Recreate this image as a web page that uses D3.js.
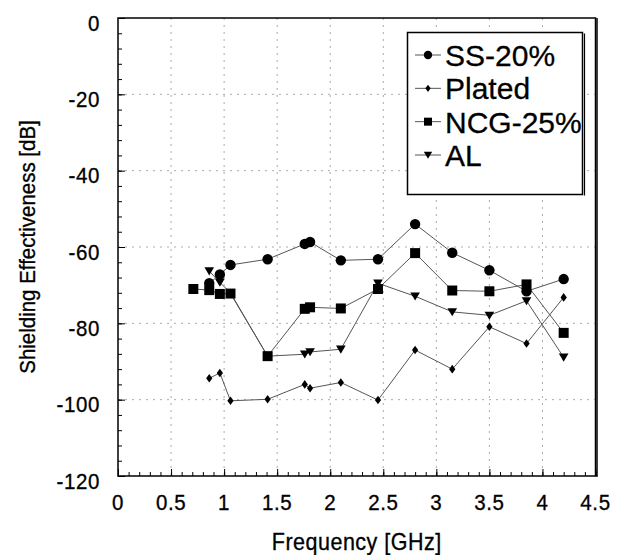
<!DOCTYPE html>
<html><head><meta charset="utf-8">
<script src="https://cdn.jsdelivr.net/npm/d3@7"></script>
<style>
body{margin:0;background:#fff}
text{font-family:"Liberation Sans",Arial,Helvetica,sans-serif;fill:#000;stroke:#000;stroke-width:0.3px}
</style>
</head><body>
<svg id="chart" width="618" height="555"></svg>
<script>
// ---- data ----
const ssFreq    = [0.86, 0.96, 1.06, 1.41, 1.76, 1.81, 2.10, 2.45, 2.80, 3.15, 3.50, 3.85, 4.20];
const ssValues  = [-69.5, -67.2, -64.7, -63.2, -59.2, -58.7, -63.5, -63.2, -54.0, -61.5, -66.1, -71.6, -68.4];

const platedFreq   = [0.86, 0.96, 1.06, 1.41, 1.76, 1.81, 2.10, 2.45, 2.80, 3.15, 3.50, 3.85, 4.20];
const platedValues = [-94.4, -93.0, -100.3, -99.9, -96.0, -97.0, -95.5, -100.1, -87.0, -92.0, -80.9, -85.3, -73.2];

const ncgFreq   = [0.71, 0.86, 0.96, 1.06, 1.41, 1.76, 1.81, 2.10, 2.45, 2.80, 3.15, 3.50, 3.85, 4.20];
const ncgValues = [-71.0, -71.3, -72.3, -72.2, -88.6, -76.2, -75.8, -76.1, -71.0, -61.6, -71.4, -71.6, -69.8, -82.5];

const alFreq   = [0.86, 0.96, 1.06, 1.41, 1.76, 1.81, 2.10, 2.45, 2.80, 3.15, 3.50, 3.85, 4.20];
const alValues = [-66.3, -69.3, -72.0, -88.6, -88.1, -87.5, -86.8, -69.5, -72.9, -77.0, -77.9, -74.1, -88.9];

const seriesNames = ["SS-20%", "Plated", "NCG-25%", "AL"];
const xTickLabels = ["0", "0.5", "1", "1.5", "2", "2.5", "3", "3.5", "4", "4.5"];
const yTickLabels = ["0", "-20", "-40", "-60", "-80", "-100", "-120"];
const xTitle = "Frequency [GHz]";
const yTitle = "Shielding Effectiveness [dB]";

// ---- layout ----
const svg = d3.select("#chart");
const L = 118, R = 595.5, T = 18, B = 476;
const x = d3.scaleLinear().domain([0, 4.5]).range([L, R]);
const y = d3.scaleLinear().domain([-120, 0]).range([B, T]);

const xMajor = xTickLabels.map(Number);
const yMajor = yTickLabels.map(Number);

// marker shapes
const shapes = {
  circle: (r) => `M${r},0A${r},${r} 0 1,1 ${-r},0A${r},${r} 0 1,1 ${r},0Z`,
  diamond: (r) => `M0,${-r*1.3}L${r*0.95},0L0,${r*1.3}L${-r*0.95},0Z`,
  square: (r) => `M${-r},${-r}L${r},${-r}L${r},${r}L${-r},${r}Z`,
  triDown: (r) => `M${-r*1.05},${-r*0.8}L${r*1.05},${-r*0.8}L0,${r*0.95}Z`
};

const series = [
  {name: seriesNames[0], fx: ssFreq, v: ssValues, shape: "circle", r: 5.2, lr: 4.2},
  {name: seriesNames[1], fx: platedFreq, v: platedValues, shape: "diamond", r: 3.3, lr: 2.8},
  {name: seriesNames[2], fx: ncgFreq, v: ncgValues, shape: "square", r: 5, lr: 4},
  {name: seriesNames[3], fx: alFreq, v: alValues, shape: "triDown", r: 4.6, lr: 4}
];

// ---- gridlines ----
const grid = svg.append("g");
grid.selectAll("line.vx").data(xMajor.filter(d => d > 0 && d < 4.5)).join("line")
  .attr("x1", d => x(d)).attr("x2", d => x(d)).attr("y1", T).attr("y2", B)
  .attr("stroke", "#aaa").attr("stroke-width", 1).attr("stroke-dasharray", "2,5");
grid.selectAll("line.hy").data(yMajor.filter(d => d < 0 && d > -120)).join("line")
  .attr("x1", L).attr("x2", R).attr("y1", d => y(d)).attr("y2", d => y(d))
  .attr("stroke", "#aaa").attr("stroke-width", 1).attr("stroke-dasharray", "2,5");

// ---- axes (ticks inward) ----
const xAxis = d3.axisBottom(x).tickValues(xMajor).tickSize(-7).tickFormat(() => "");
const xAxisMinor = d3.axisBottom(x).tickValues(d3.range(0, 4.501, 0.1)).tickSize(-4).tickFormat(() => "");
const yAxis = d3.axisLeft(y).tickValues(yMajor).tickSize(-7).tickFormat(() => "");
const yAxisMinor = d3.axisLeft(y).tickValues(d3.range(-120, 0.01, 4)).tickSize(-4).tickFormat(() => "");

function styleAxis(g) {
  g.select(".domain").remove();
  g.selectAll(".tick line").attr("stroke", "#000").attr("stroke-width", 1);
}
svg.append("g").attr("transform", `translate(0,${B})`).call(xAxisMinor).call(styleAxis);
svg.append("g").attr("transform", `translate(0,${B})`).call(xAxis).call(styleAxis);
svg.append("g").attr("transform", `translate(${L},0)`).call(yAxisMinor).call(styleAxis);
svg.append("g").attr("transform", `translate(${L},0)`).call(yAxis).call(styleAxis);

// tick labels
svg.append("g").selectAll("text").data(xMajor).join("text")
  .attr("transform", d => `translate(${x(d)},510) scale(1,1.06)`)
  .attr("text-anchor", "middle").attr("font-size", 20.5).attr("letter-spacing", 0.6)
  .text((d, i) => xTickLabels[i]);
svg.append("g").selectAll("text").data(yMajor).join("text")
  .attr("transform", d => `translate(100,${y(d) + 12.5}) scale(1,1.08)`)
  .attr("text-anchor", "end").attr("font-size", 20.5).attr("letter-spacing", 0.6)
  .text((d, i) => yTickLabels[i]);

// axis titles
svg.append("text").attr("transform", `translate(${(L + R) / 2},550) scale(1,1.08)`)
  .attr("text-anchor", "middle").attr("font-size", 21.5).attr("letter-spacing", 0.5)
  .text(xTitle);
svg.append("text").attr("transform", `translate(35,${(T + B) / 2}) rotate(-90) scale(1,1.12)`)
  .attr("text-anchor", "middle").attr("font-size", 20.5)
  .text(yTitle);

// ---- series lines and markers ----
const line = d3.line().x(d => x(d[0])).y(d => y(d[1]));
series.forEach(s => {
  const pts = s.fx.map((f, i) => [f, s.v[i]]);
  svg.append("path").datum(pts).attr("d", line)
    .attr("fill", "none").attr("stroke", "#555").attr("stroke-width", 1);
});
series.forEach(s => {
  const pts = s.fx.map((f, i) => [f, s.v[i]]);
  svg.append("g").selectAll("path").data(pts).join("path")
    .attr("transform", d => `translate(${x(d[0])},${y(d[1])})`)
    .attr("d", shapes[s.shape](s.r)).attr("fill", "#000");
});

// ---- frame ----
svg.append("rect").attr("x", L).attr("y", T).attr("width", R - L).attr("height", B - T)
  .attr("fill", "none").attr("stroke", "#000").attr("stroke-width", 1.5);
svg.append("line").attr("x1", R + 1.5).attr("x2", R + 1.5).attr("y1", T).attr("y2", B + 1)
  .attr("stroke", "#000").attr("stroke-width", 1.5);

// ---- legend ----
const lg = svg.append("g");
const lx = 407.5, ly = 32.5, lw = 175, lh = 162;
lg.append("rect").attr("x", lx).attr("y", ly).attr("width", lw).attr("height", lh)
  .attr("fill", "#fff").attr("stroke", "#000").attr("stroke-width", 1.5);
lg.append("line").attr("x1", lx + lw + 2).attr("x2", lx + lw + 2).attr("y1", ly + 1).attr("y2", ly + lh + 1)
  .attr("stroke", "#000").attr("stroke-width", 1.2);
const rowY = d3.scaleLinear().domain([0, 3]).range([55, 155]);
series.forEach((s, i) => {
  const cy = rowY(i);
  lg.append("line").attr("x1", 415).attr("x2", 441).attr("y1", cy).attr("y2", cy)
    .attr("stroke", "#555").attr("stroke-width", 1);
  lg.append("path").attr("transform", `translate(428,${cy})`)
    .attr("d", shapes[s.shape](s.lr)).attr("fill", "#000");
  lg.append("text").attr("x", 445).attr("y", cy + 11)
    .attr("font-size", 30).text(s.name);
});
</script>
</body></html>
